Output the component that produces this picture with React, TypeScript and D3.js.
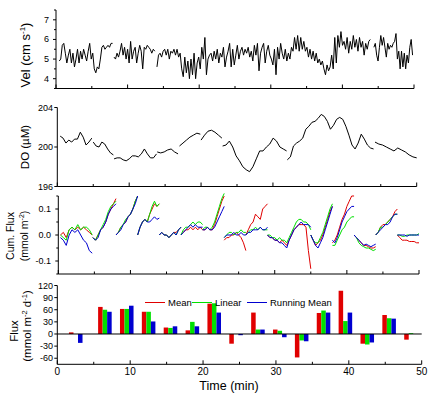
import * as React from 'react';
import * as d3 from 'd3';

const FONT = "'Liberation Sans', Arial, Helvetica, sans-serif";
const RED = '#e00000';
const GREEN = '#00e000';
const BLUE = '#0000d0';

type Seg = { t0: number; t1: number; v: number[] };
type CumSeg = { t0: number; t1: number; red: number[]; green: number[]; blue: number[] };

// ---- data ----
const timeTicks = [0, 10, 20, 30, 40, 50];
const velTicks = [4, 5, 6, 7];
const doTicks = [196, 200, 204];
const cumTicks = [-0.1, 0, 0.1];
const fluxTicks = [-60, -30, 0, 30, 60, 90, 120];

// water velocity (cm/s), recorded in a few continuous runs
const velSegments: Seg[] = [
  { t0: 0.45, t1: 7.9, v: [4.9, 5.0, 5.7, 5.8, 5.3, 4.8, 5.2, 5.5, 4.8, 5.3, 4.6, 5.0, 5.5, 4.8, 5.4, 5.0, 5.5, 5.2, 4.9, 5.4, 5.8, 5.0, 5.3, 4.5, 4.3, 4.6, 4.5, 5.0, 5.6, 5.7, 5.5, 5.6, 5.7, 5.6, 5.8, 5.8] },
  { t0: 8.1, t1: 13.8, v: [5.1, 5.0, 5.3, 5.1, 5.4, 5.8, 5.2, 5.6, 5.0, 5.5, 4.8, 5.9, 5.0, 5.4, 5.6, 4.8, 5.3, 5.7, 5.4, 4.5, 5.6, 5.5, 5.7, 5.6, 5.5, 5.3, 5.5, 5.4] },
  { t0: 14.1, t1: 43.9, v: [
    4.6, 5.2, 5.3, 5.1, 5.4, 5.5, 5.2, 5.5, 5.0, 5.4, 5.3, 5.5, 5.2, 5.5, 5.1, 5.3,
    4.5, 4.1, 5.1, 4.3, 4.9, 4.0, 5.0, 4.2, 5.3, 4.0, 4.8, 5.1, 4.5, 5.6, 5.0, 6.1, 4.2, 5.0,
    5.2, 5.3, 4.9, 5.4, 5.0, 5.5, 4.8, 5.3, 5.1, 5.6, 4.6, 5.1, 5.4, 5.8, 4.6, 5.5, 4.7, 5.2,
    5.7, 5.0, 5.4, 5.6, 5.2, 5.5, 5.3, 5.6, 5.1, 5.4, 4.9, 5.7, 5.2, 5.8, 4.4, 5.3, 5.6,
    5.8, 4.8, 5.4, 5.7, 5.2, 5.0, 4.7, 5.5, 4.2, 5.6, 5.0, 5.8, 5.3, 5.0, 5.5, 4.9, 5.3,
    5.0, 5.6, 5.4, 6.1, 5.5, 6.2, 5.4, 6.1, 5.5, 5.9, 5.4, 5.6, 5.1, 5.5, 5.0, 5.4, 4.9,
    5.3, 4.8, 5.0, 4.7, 4.9, 4.5, 4.2, 4.7, 4.4, 4.6, 5.2, 4.5, 6.1,
    4.8, 6.2, 5.6, 6.4, 5.7, 5.9, 5.5, 6.1, 5.3, 5.9, 5.5, 6.2, 5.6, 6.0, 5.4, 6.1, 5.6, 5.9, 5.2, 5.8, 5.5, 5.9, 6.0,
  ] },
  { t0: 44.4, t1: 49.8, v: [5.6, 5.8, 5.2, 4.9, 5.6, 6.2, 5.7, 6.1, 5.6, 5.1, 5.8, 5.5, 5.7, 5.6, 5.8, 5.9, 6.3, 5.0, 5.4, 4.5, 5.4, 4.6, 5.3, 4.5, 5.2, 4.8, 5.6, 6.0, 5.2] },
];

// dissolved oxygen (uM)
const doSegments: Seg[] = [
  { t0: 0.4, t1: 4.8, v: [201.1, 200.9, 200.4, 200.7, 200.5, 200.8, 200.8, 201.5, 201.0, 200.2, 200.5, 200.9] },
  { t0: 5.0, t1: 7.8, v: [200.5, 200.1, 200.0, 200.5, 200.3, 199.8, 199.4, 199.2] },
  { t0: 7.9, t1: 13.8, v: [198.8, 198.9, 198.9, 198.7, 198.6, 198.8, 199.1, 199.1, 199.0, 199.3, 199.8, 199.3, 198.9, 198.9, 199.3] },
  { t0: 13.9, t1: 16.8, v: [199.5, 199.4, 199.5, 199.7, 199.8, 199.5, 199.3] },
  { t0: 17.0, t1: 19.9, v: [200.1, 200.4, 200.7, 201.0, 201.2, 201.4, 201.3] },
  { t0: 20.0, t1: 22.9, v: [200.7, 201.2, 201.6, 201.7, 201.5, 201.2, 200.9] },
  { t0: 23.0, t1: 31.9, v: [200.1, 200.2, 200.6, 200.0, 199.1, 198.6, 198.0, 197.7, 197.5, 198.0, 198.8, 199.6, 199.6, 200.0, 200.3, 200.9, 200.6, 200.0, 199.8, 199.6] },
  { t0: 32.0, t1: 44.0, v: [198.7, 199.0, 200.1, 200.4, 200.6, 200.9, 201.8, 202.1, 202.5, 202.6, 202.9, 203.3, 203.1, 202.6, 201.8, 202.2, 202.8, 203.0, 202.8, 202.1, 201.2, 200.2, 199.8, 200.4, 201.3, 200.8, 200.2, 199.9, 199.8] },
  { t0: 44.2, t1: 50.0, v: [200.5, 200.3, 200.2, 200.0, 199.8, 199.6, 199.9, 199.7, 199.5, 199.2, 199.0, 198.9] },
];

// cumulative flux (mmol m-2) per 3-min window: mean / linear / running mean
const cumSegments: CumSeg[] = [
  { t0: 0.3, t1: 4.7,
    red: [0.00, 0.01, -0.01, 0.02, 0.03, 0.02, 0.03, 0.02, 0.03, 0.02, 0.01, 0.00],
    green: [0.00, -0.01, -0.02, 0.02, 0.03, 0.02, 0.04, 0.02, 0.03, 0.03, 0.02, 0.00],
    blue: [-0.01, -0.02, -0.04, 0.00, 0.02, 0.01, 0.02, 0.00, -0.02, -0.03, -0.06, -0.07] },
  { t0: 4.8, t1: 8.0,
    red: [-0.01, -0.02, 0.00, 0.02, 0.03, 0.05, 0.08, 0.10, 0.12, 0.14],
    green: [-0.01, -0.02, 0.00, 0.02, 0.04, 0.06, 0.09, 0.11, 0.12, 0.13],
    blue: [-0.01, -0.02, -0.01, 0.02, 0.03, 0.05, 0.08, 0.10, 0.11, 0.12] },
  { t0: 8.0, t1: 11.0,
    red: [0.00, 0.01, 0.03, 0.04, 0.05, 0.07, 0.08, 0.10, 0.13, 0.15],
    green: [0.00, 0.01, 0.03, 0.04, 0.06, 0.07, 0.08, 0.10, 0.13, 0.15],
    blue: [0.00, 0.01, 0.02, 0.04, 0.05, 0.07, 0.08, 0.10, 0.12, 0.15] },
  { t0: 11.0, t1: 14.0,
    red: [0.00, 0.03, 0.05, 0.06, 0.05, 0.08, 0.10, 0.12, 0.11, 0.12],
    green: [0.00, 0.03, 0.05, 0.06, 0.05, 0.08, 0.11, 0.13, 0.11, 0.12],
    blue: [0.00, 0.03, 0.05, 0.06, 0.05, 0.05, 0.06, 0.07, 0.06, 0.065] },
  { t0: 14.0, t1: 17.0,
    red: [0.00, 0.01, 0.00, 0.00, -0.01, 0.00, 0.01, 0.01, 0.02, 0.03],
    green: [0.00, 0.01, 0.00, 0.00, -0.01, 0.00, 0.01, 0.00, 0.02, 0.03],
    blue: [0.00, 0.01, 0.00, 0.00, -0.01, 0.00, 0.01, 0.00, 0.02, 0.03] },
  { t0: 17.0, t1: 20.0,
    red: [0.00, 0.01, 0.02, 0.02, 0.03, 0.02, 0.03, 0.02, 0.03, 0.02],
    green: [0.00, 0.02, 0.03, 0.03, 0.04, 0.05, 0.04, 0.05, 0.05, 0.04],
    blue: [0.00, 0.01, 0.02, 0.03, 0.04, 0.03, 0.04, 0.03, 0.03, 0.03] },
  { t0: 20.0, t1: 23.0,
    red: [0.02, 0.02, 0.03, 0.02, 0.02, 0.04, 0.07, 0.10, 0.13, 0.15],
    green: [0.02, 0.03, 0.03, 0.02, 0.03, 0.05, 0.08, 0.11, 0.14, 0.16],
    blue: [0.02, 0.02, 0.03, 0.02, 0.02, 0.03, 0.05, 0.07, 0.09, 0.11] },
  { t0: 23.0, t1: 26.0,
    red: [-0.02, -0.01, -0.01, 0.00, 0.00, 0.01, 0.00, -0.01, -0.03, -0.06],
    green: [-0.01, 0.00, 0.01, 0.01, 0.00, 0.01, 0.01, 0.02, 0.01, 0.01],
    blue: [-0.01, 0.00, 0.00, 0.00, 0.01, 0.00, 0.00, 0.01, 0.00, 0.00] },
  { t0: 26.0, t1: 29.0,
    red: [0.00, 0.02, 0.04, 0.05, 0.08, 0.07, 0.06, 0.10, 0.11, 0.12],
    green: [0.00, 0.01, 0.02, 0.02, 0.03, 0.02, 0.03, 0.02, 0.02, 0.02],
    blue: [0.00, 0.01, 0.01, 0.02, 0.02, 0.02, 0.03, 0.02, 0.02, 0.03] },
  { t0: 29.0, t1: 32.0,
    red: [0.00, -0.01, -0.01, -0.02, -0.02, -0.03, -0.02, -0.03, -0.04, -0.02],
    green: [0.00, 0.00, -0.01, -0.01, -0.02, -0.01, -0.02, -0.02, -0.03, -0.01],
    blue: [0.00, -0.01, -0.01, -0.02, -0.02, -0.03, -0.03, -0.04, -0.05, -0.02] },
  { t0: 32.0, t1: 35.0,
    red: [-0.02, 0.00, 0.02, 0.03, 0.04, 0.04, 0.04, 0.03, -0.06, -0.13],
    green: [-0.01, 0.01, 0.03, 0.05, 0.06, 0.06, 0.05, 0.05, 0.04, 0.02],
    blue: [-0.02, 0.00, 0.02, 0.03, 0.04, 0.05, 0.04, 0.04, 0.04, 0.03] },
  { t0: 35.0, t1: 38.0,
    red: [0.00, -0.02, -0.04, -0.03, -0.02, 0.00, 0.03, 0.06, 0.09, 0.11],
    green: [0.00, -0.02, -0.03, -0.03, -0.01, 0.01, 0.04, 0.07, 0.10, 0.12],
    blue: [0.00, -0.02, -0.04, -0.05, -0.03, -0.01, 0.02, 0.05, 0.08, 0.11] },
  { t0: 38.0, t1: 41.0,
    red: [-0.03, -0.02, 0.00, 0.03, 0.06, 0.08, 0.11, 0.13, 0.15, 0.15],
    green: [-0.04, -0.04, -0.02, 0.00, 0.02, 0.03, 0.05, 0.06, 0.07, 0.07],
    blue: [-0.02, -0.03, -0.01, 0.02, 0.05, 0.07, 0.09, 0.10, 0.11, 0.11] },
  { t0: 41.0, t1: 44.0,
    red: [0.00, -0.01, -0.02, -0.03, -0.04, -0.04, -0.045, -0.05, -0.05, -0.045],
    green: [0.00, -0.01, -0.03, -0.04, -0.045, -0.05, -0.05, -0.055, -0.06, -0.055],
    blue: [0.00, -0.01, -0.02, -0.03, -0.04, -0.035, -0.04, -0.045, -0.04, -0.035] },
  { t0: 44.0, t1: 47.0,
    red: [0.00, 0.01, 0.03, 0.04, 0.04, 0.05, 0.06, 0.07, 0.09, 0.10],
    green: [0.00, 0.01, 0.03, 0.03, 0.04, 0.05, 0.06, 0.07, 0.08, 0.08],
    blue: [0.00, 0.01, 0.02, 0.03, 0.04, 0.04, 0.05, 0.07, 0.08, 0.08] },
  { t0: 47.0, t1: 50.0,
    red: [0.00, -0.01, -0.02, -0.02, -0.02, -0.025, -0.025, -0.025, -0.03, -0.03],
    green: [0.00, 0.00, -0.005, -0.005, 0.00, 0.00, 0.00, 0.00, 0.00, 0.005],
    blue: [0.00, 0.00, 0.00, 0.00, -0.005, 0.00, 0.00, 0.00, 0.00, 0.00] },
];

// flux (mmol m-2 d-1) for each window
const fluxTimes = [2, 6, 9, 12, 15, 18, 21, 24, 27, 30, 33, 36, 39, 42, 45, 48];
const fluxMean = [4, 67, 62, 55, 16, 9, 75, -24, 53, 11, -58, 52, 107, -24, 47, -14];
const fluxLinear = [0, 60, 62, 55, 15, 30, 76, 0, 11, 8, -16, 58, 32, -26, 39, 2];
const fluxRunning = [-22, 55, 70, 31, 19, 19, 53, -3, 11, -8, -18, 53, 53, -21, 38, 0];

const legendItems = [
  { label: 'Mean', color: RED },
  { label: 'Linear', color: GREEN },
  { label: 'Running Mean', color: BLUE },
];

// ---- helpers ----
function samples(t0: number, t1: number, v: number[]): [number, number][] {
  const n = v.length;
  return v.map((d, i) => [t0 + (i * (t1 - t0)) / (n - 1), d] as [number, number]);
}

function BottomAxis({ x, y, labels }: { x: d3.ScaleLinear<number, number>; y: number; labels?: boolean }) {
  const [r0, r1] = x.range();
  const minor = d3.range(0, 51, 5).filter((d) => d % 10 !== 0);
  return (
    <g>
      <line x1={r0} x2={r1} y1={y} y2={y} stroke="#000" strokeWidth={1} />
      {timeTicks.map((t) => (
        <line key={'M' + t} x1={x(t)} x2={x(t)} y1={y} y2={y - 4} stroke="#000" />
      ))}
      {minor.map((t) => (
        <line key={'m' + t} x1={x(t)} x2={x(t)} y1={y} y2={y - 2.5} stroke="#000" />
      ))}
      {labels &&
        timeTicks.map((t) => (
          <text key={'l' + t} x={x(t)} y={y + 11} fontSize={10} textAnchor="middle" fontFamily={FONT}>
            {t}
          </text>
        ))}
    </g>
  );
}

function LeftAxis({ y, x0, ticks, fmt, lx, top, minor }: {
  y: d3.ScaleLinear<number, number>; x0: number; ticks: number[]; fmt: (d: number) => string; lx: number; top?: number; minor?: number[];
}) {
  const [b, t] = y.range();
  return (
    <g>
      <line x1={x0} x2={x0} y1={b} y2={top ?? t} stroke="#000" />
      {ticks.map((d) => (
        <g key={d}>
          <line x1={x0 - 3} x2={x0} y1={y(d)} y2={y(d)} stroke="#000" />
          <text x={lx} y={y(d) + 3} fontSize={9} textAnchor="end" fontFamily={FONT}>
            {fmt(d)}
          </text>
        </g>
      ))}
      {(minor || []).map((d) => (
        <line key={'m' + d} x1={x0 - 2} x2={x0} y1={y(d)} y2={y(d)} stroke="#000" />
      ))}
    </g>
  );
}

export default function App() {
  // panel scales (each panel was scanned at a slightly different width)
  const x1 = d3.scaleLinear().domain([0, 50]).range([56, 414]);
  const y1 = d3.scaleLinear().domain([3.5, 7.5]).range([88.5, 10]);
  const x2 = d3.scaleLinear().domain([0, 50]).range([57.3, 416.7]);
  const y2 = d3.scaleLinear().domain([196, 204]).range([186.5, 107.5]);
  const x3 = d3.scaleLinear().domain([0, 50]).range([58.3, 419]);
  const y3 = d3.scaleLinear().domain([-0.15, 0.15]).range([274, 196]);
  const x4 = d3.scaleLinear().domain([0, 50]).range([57.3, 421.7]);
  const y4 = d3.scaleLinear().domain([-75, 120]).range([364.3, 285.5]);

  const line1 = d3.line<[number, number]>().x((d) => x1(d[0])).y((d) => y1(d[1]));
  const line2 = d3.line<[number, number]>().x((d) => x2(d[0])).y((d) => y2(d[1]));
  const line3 = d3.line<[number, number]>().x((d) => x3(d[0])).y((d) => y3(d[1]));

  const barW = 0.62;
  const series = [
    { vals: fluxMean, color: RED, off: -0.4 },
    { vals: fluxLinear, color: GREEN, off: -0.4 + barW },
    { vals: fluxRunning, color: BLUE, off: -0.4 + 2 * barW },
  ];

  return (
    <svg width={431} height={396} style={{ position: 'absolute', left: 0, top: 0, background: '#fff' }}>
      <rect width={431} height={396} fill="#fff" />

      {/* Panel 1: velocity */}
      <g>
        {velSegments.map((s, i) => (
          <path key={i} d={line1(samples(s.t0, s.t1, s.v)) || ''} fill="none" stroke="#000" strokeWidth={1} />
        ))}
        <LeftAxis y={y1} x0={56} ticks={velTicks} fmt={(d) => String(d)} lx={49} minor={[3.5, 4.5, 5.5, 6.5, 7.5]} />
        <BottomAxis x={x1} y={88.5} />
        <text transform="translate(30,55) rotate(-90)" fontSize={13} textAnchor="middle" fontFamily={FONT}>
          Vel (cm s<tspan fontSize={8} dy={-5}>-1</tspan><tspan dy={5}>)</tspan>
        </text>
      </g>

      {/* Panel 2: dissolved oxygen */}
      <g>
        {doSegments.map((s, i) => (
          <path key={i} d={line2(samples(s.t0, s.t1, s.v)) || ''} fill="none" stroke="#000" strokeWidth={1} />
        ))}
        <LeftAxis y={y2} x0={57.3} ticks={doTicks} fmt={(d) => String(d)} lx={53} />
        <BottomAxis x={x2} y={186.5} />
        <text transform="translate(29,147) rotate(-90)" fontSize={11.5} textAnchor="middle" fontFamily={FONT}>
          DO (µM)
        </text>
      </g>

      {/* Panel 3: cumulative flux */}
      <g>
        {(['red', 'green', 'blue'] as const).map((k) =>
          cumSegments.map((s, i) => (
            <path
              key={k + i}
              d={line3(samples(s.t0, s.t1, s[k])) || ''}
              fill="none"
              stroke={k === 'red' ? RED : k === 'green' ? GREEN : BLUE}
              strokeWidth={1}
            />
          ))
        )}
        <LeftAxis y={y3} x0={58.3} ticks={cumTicks} fmt={(d) => d3.format('.1f')(d).replace('−', '-')} lx={51} minor={[-0.15, -0.05, 0.05, 0.15]} />
        <BottomAxis x={x3} y={274} />
        <text transform="translate(14,236) rotate(-90)" fontSize={10.5} textAnchor="middle" fontFamily={FONT}>
          Cum. Flux
        </text>
        <text transform="translate(28,236) rotate(-90)" fontSize={10.5} textAnchor="middle" fontFamily={FONT}>
          (mmol m<tspan fontSize={7} dy={-4}>-2</tspan><tspan dy={4}>)</tspan>
        </text>
      </g>

      {/* Panel 4: flux bars */}
      <g>
        {series.map((s) =>
          s.vals.map((v, i) => {
            const xl = x4(fluxTimes[i] + s.off);
            const w = x4(fluxTimes[i] + s.off + barW) - xl;
            return (
              <rect key={s.color + i} x={xl} y={Math.min(y4(v), y4(0))} width={w} height={Math.abs(y4(v) - y4(0))} fill={s.color} />
            );
          })
        )}
        <line x1={x4(0)} x2={x4(50)} y1={y4(0)} y2={y4(0)} stroke="#000" />
        <LeftAxis y={y4} x0={57.3} ticks={fluxTicks} fmt={(d) => String(d)} lx={53} top={y4(120)} />
        <BottomAxis x={x4} y={364.3} labels />
        <text transform="translate(18,331) rotate(-90)" fontSize={11.5} textAnchor="middle" fontFamily={FONT}>
          Flux
        </text>
        <text transform="translate(31,326) rotate(-90)" fontSize={11.5} textAnchor="middle" fontFamily={FONT}>
          (mmol m<tspan fontSize={7.5} dy={-4.5}>-2</tspan><tspan dy={4.5}> d</tspan><tspan fontSize={7.5} dy={-4.5}>-1</tspan><tspan dy={4.5}>)</tspan>
        </text>
        <text x={229} y={390} fontSize={12.5} textAnchor="middle" fontFamily={FONT}>
          Time (min)
        </text>
        {/* legend */}
        {legendItems.map((it, i) => {
          const lx = [145, 192, 247][i];
          return (
            <g key={it.label}>
              <line x1={lx} x2={lx + 20} y1={302.5} y2={302.5} stroke={it.color} strokeWidth={1} />
              <text x={lx + 23} y={306} fontSize={9.5} fontFamily={FONT}>
                {it.label}
              </text>
            </g>
          );
        })}
      </g>
    </svg>
  );
}
